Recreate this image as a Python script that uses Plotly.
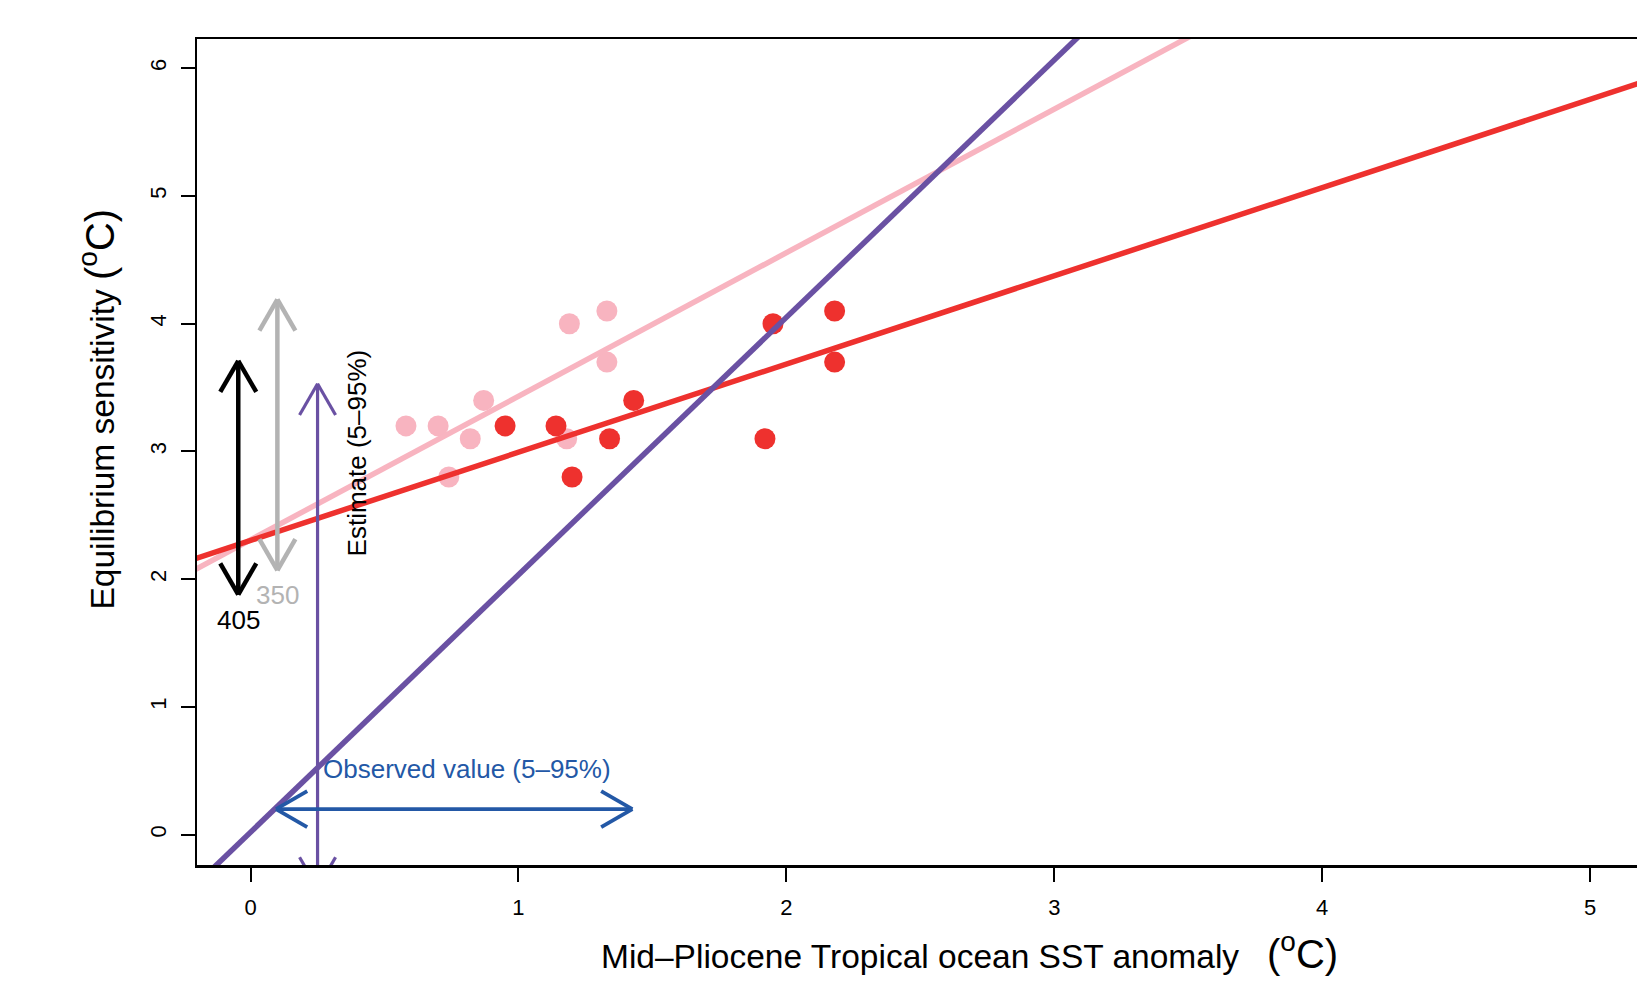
import numpy as np
import plotly.graph_objects as go

# ---------------- data ----------------
ecs = [3.2, 3.2, 3.1, 3.4, 2.8, 4.0, 4.1, 3.7, 3.1]            # equilibrium sensitivity
sst_pink = [0.58, 0.70, 0.82, 0.87, 0.74, 1.19, 1.33, 1.33, 1.18]
sst_red = [0.95, 1.14, 1.34, 1.43, 1.20, 1.95, 2.18, 2.18, 1.92]
constraint_slope = 2.015
constraint_intercept = 0.02
black_x, black_range = -0.046, [1.88, 3.71]     # "405"
gray_x, gray_range = 0.10, [2.07, 4.19]         # "350"
est_x, est_range = 0.25, [-0.42, 3.53]          # Estimate (5-95%)
obs_y, obs_range = 0.20, [0.095, 1.425]         # Observed value (5-95%)
xticks = [0, 1, 2, 3, 4, 5]
yticks = [0, 1, 2, 3, 4, 5, 6]

# ---------------- layout geometry ----------------
W, H = 1637, 982
ML, MR, MT, MB = 197, 0, 39, 117
XR = [-0.2, 5.175]
YR = [-0.237, 6.229]
pw, ph = W - ML - MR, H - MT - MB
sx = pw / (XR[1] - XR[0])
sy = ph / (YR[1] - YR[0])

PINK = "#F8B4C0"
RED = "#EE312E"
PURPLE = "#6A51A3"
BLUE = "#2358A6"
GRAY = "#B3B3B3"
FONT = "Liberation Sans, Arial, Helvetica, sans-serif"

fig = go.Figure()

fig.add_trace(go.Scatter(x=sst_pink, y=ecs, mode="markers",
                         marker=dict(color=PINK, size=21, line=dict(width=0)),
                         showlegend=False, hoverinfo="skip"))
fig.add_trace(go.Scatter(x=sst_red, y=ecs, mode="markers",
                         marker=dict(color=RED, size=21, line=dict(width=0)),
                         showlegend=False, hoverinfo="skip"))

# regression lines
xl = np.array([-0.5, 6.0])
for xs, col in [(sst_pink, PINK), (sst_red, RED)]:
    b, a = np.polyfit(xs, ecs, 1)
    fig.add_trace(go.Scatter(x=xl, y=a + b * xl, mode="lines",
                             line=dict(color=col, width=5.5),
                             showlegend=False, hoverinfo="skip"))

xc = np.array([-0.5, 3.5])
fig.add_trace(go.Scatter(x=xc, y=constraint_intercept + constraint_slope * xc,
                         mode="lines", line=dict(color=PURPLE, width=5.5),
                         showlegend=False, hoverinfo="skip"))


def arrow(x0, y0, x1, y1, L=36, ang=30):
    """double-headed open arrow, head geometry computed in pixel space"""
    px0, py0, px1, py1 = x0 * sx, y0 * sy, x1 * sx, y1 * sy
    xs, ys = [x0, x1, None], [y0, y1, None]
    th = np.arctan2(py1 - py0, px1 - px0)
    a = np.radians(ang)
    for (tx, ty, d) in [(px1, py1, th + np.pi), (px0, py0, th)]:
        for s in (-1, 1):
            hx = tx + L * np.cos(d + s * a)
            hy = ty + L * np.sin(d + s * a)
            xs += [tx / sx, hx / sx, None]
            ys += [ty / sy, hy / sy, None]
    return xs, ys


for (ax0, ay0, ax1, ay1, col, w) in [
    (black_x, black_range[0], black_x, black_range[1], "#000000", 4.5),
    (gray_x, gray_range[0], gray_x, gray_range[1], GRAY, 4.5),
    (est_x, est_range[0], est_x, est_range[1], PURPLE, 3.2),
    (obs_range[0], obs_y, obs_range[1], obs_y, BLUE, 3.8),
]:
    xs, ys = arrow(ax0, ay0, ax1, ay1)
    fig.add_trace(go.Scatter(x=xs, y=ys, mode="lines",
                             line=dict(color=col, width=w),
                             showlegend=False, hoverinfo="skip"))

ann = [
    dict(x=black_x, y=1.683, text="405", font=dict(color="#000000", size=26)),
    dict(x=gray_x, y=1.878, text="350", font=dict(color=GRAY, size=26)),
    dict(x=0.396, y=2.99, text="Estimate (5–95%)", textangle=-90,
         font=dict(color="#000000", size=26)),
    dict(x=0.262, y=0.515, text="Observed value (5–95%)", xanchor="left",
         font=dict(color=BLUE, size=26)),
]
for a in ann:
    a.setdefault("xanchor", "center")
    a.update(xref="x", yref="y", yanchor="middle", showarrow=False)
    fig.add_annotation(**a)

UNIT = '<span style="font-size:40px">(<sup>o</sup>C)</span>'
# axis titles
fig.add_annotation(xref="paper", yref="paper", x=(599 - ML) / pw, y=0,
                   yshift=-(951 - (H - MB)), xanchor="left", yanchor="middle",
                   text="Mid–Pliocene Tropical ocean SST anomaly   " + UNIT,
                   showarrow=False, font=dict(size=33.5, color="#000000"))
fig.add_annotation(xref="paper", yref="paper", x=0, xshift=-(ML - 97),
                   y=((H - MB) - 612) / ph, xanchor="center", yanchor="bottom",
                   textangle=-90,
                   text="Equilibrium sensitivity " + UNIT,
                   showarrow=False, font=dict(size=33.5, color="#000000"))

fig.update_layout(
    width=W, height=H,
    margin=dict(l=ML, r=MR, t=MT, b=MB, pad=0),
    paper_bgcolor="white", plot_bgcolor="white",
    font=dict(family=FONT, color="#000000"),
    showlegend=False,
)
fig.update_xaxes(range=XR, tickvals=xticks, ticktext=[str(v) for v in xticks],
                 showgrid=False, zeroline=False, showline=True, mirror=True,
                 linecolor="#000000", linewidth=2.5, ticks="outside", ticklen=14,
                 tickwidth=2, tickcolor="#000000", tickfont=dict(size=22),
                 ticklabelstandoff=7)
fig.update_yaxes(range=YR, tickvals=yticks, ticktext=[str(v) for v in yticks],
                 showgrid=False, zeroline=False, showline=True, mirror=False,
                 linecolor="#000000", linewidth=2.5, ticks="outside", ticklen=14,
                 tickwidth=2, tickcolor="#000000", tickfont=dict(size=22),
                 tickangle=-90, ticklabelstandoff=6)

fig.write_html("out.html", config={"displayModeBar": False, "staticPlot": True},
               post_script="document.body.style.margin='0';document.body.style.overflow='hidden';")
